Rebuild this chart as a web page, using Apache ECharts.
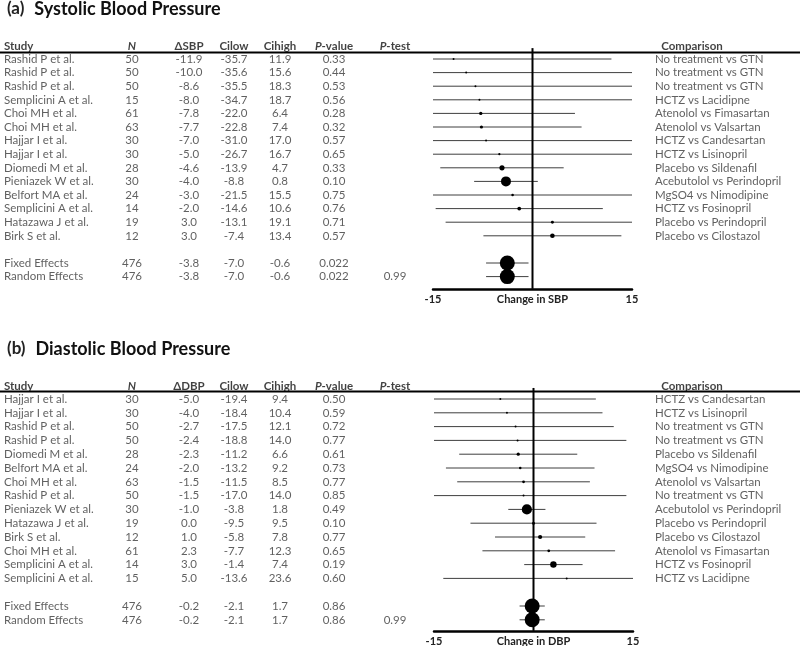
<!DOCTYPE html>
<html><head><meta charset="utf-8">
<script src="https://cdn.jsdelivr.net/npm/echarts@6/dist/echarts.min.js"></script>
<style>html,body{margin:0;padding:0;background:#fff}#c{width:800px;height:646px}</style>
</head><body><div id="c"></div>
<script>
// ---------- (a) Systolic ----------
const sbpStudy = ['Rashid P et al.','Rashid P et al.','Rashid P et al.','Semplicini A et al.','Choi MH et al.','Choi MH et al.','Hajjar I et al.','Hajjar I et al.','Diomedi M et al.','Pieniazek W et al.','Belfort MA et al.','Semplicini A et al.','Hatazawa J et al.','Birk S et al.','Fixed Effects','Random Effects'];
const sbpN = [50,50,50,15,61,63,30,30,28,30,24,14,19,12,476,476];
const sbpDelta = [-11.9,-10.0,-8.6,-8.0,-7.8,-7.7,-7.0,-5.0,-4.6,-4.0,-3.0,-2.0,3.0,3.0,-3.8,-3.8];
const sbpLow = [-35.7,-35.6,-35.5,-34.7,-22.0,-22.8,-31.0,-26.7,-13.9,-8.8,-21.5,-14.6,-13.1,-7.4,-7.0,-7.0];
const sbpHigh = [11.9,15.6,18.3,18.7,6.4,7.4,17.0,16.7,4.7,0.8,15.5,10.6,19.1,13.4,-0.6,-0.6];
const sbpP = ['0.33','0.44','0.53','0.56','0.28','0.32','0.57','0.65','0.33','0.10','0.75','0.76','0.71','0.57','0.022','0.022'];
const sbpPtest = ['','','','','','','','','','','','','','','','0.99'];
const sbpComparison = ['No treatment vs GTN','No treatment vs GTN','No treatment vs GTN','HCTZ vs Lacidipne','Atenolol vs Fimasartan','Atenolol vs Valsartan','HCTZ vs Candesartan','HCTZ vs Lisinopril','Placebo vs Sildenafil','Acebutolol vs Perindopril','MgSO4 vs Nimodipine','HCTZ vs Fosinopril','Placebo vs Perindopril','Placebo vs Cilostazol','',''];
const sbpHeaders = ['Study','{i|N}','ΔSBP','Cilow','Cihigh','{i|P}-value','{i|P}-test','Comparison'];

// ---------- (b) Diastolic ----------
const dbpStudy = ['Hajjar I et al.','Hajjar I et al.','Rashid P et al.','Rashid P et al.','Diomedi M et al.','Belfort MA et al.','Choi MH et al.','Rashid P et al.','Pieniazek W et al.','Hatazawa J et al.','Birk S et al.','Choi MH et al.','Semplicini A et al.','Semplicini A et al.','Fixed Effects','Random Effects'];
const dbpN = [30,30,50,50,28,24,63,50,30,19,12,61,14,15,476,476];
const dbpDelta = [-5.0,-4.0,-2.7,-2.4,-2.3,-2.0,-1.5,-1.5,-1.0,0.0,1.0,2.3,3.0,5.0,-0.2,-0.2];
const dbpLow = [-19.4,-18.4,-17.5,-18.8,-11.2,-13.2,-11.5,-17.0,-3.8,-9.5,-5.8,-7.7,-1.4,-13.6,-2.1,-2.1];
const dbpHigh = [9.4,10.4,12.1,14.0,6.6,9.2,8.5,14.0,1.8,9.5,7.8,12.3,7.4,23.6,1.7,1.7];
const dbpP = ['0.50','0.59','0.72','0.77','0.61','0.73','0.77','0.85','0.49','0.10','0.77','0.65','0.19','0.60','0.86','0.86'];
const dbpPtest = ['','','','','','','','','','','','','','','','0.99'];
const dbpComparison = ['HCTZ vs Candesartan','HCTZ vs Lisinopril','No treatment vs GTN','No treatment vs GTN','Placebo vs Sildenafil','MgSO4 vs Nimodipine','Atenolol vs Valsartan','No treatment vs GTN','Acebutolol vs Perindopril','Placebo vs Perindopril','Placebo vs Cilostazol','Atenolol vs Fimasartan','HCTZ vs Fosinopril','HCTZ vs Lacidipne','',''];
const dbpHeaders = ['Study','{i|N}','ΔDBP','Cilow','Cihigh','{i|P}-value','{i|P}-test','Comparison'];

const axisTicks = [-15, 15];

const FONT = 'Lato';
const FS = 11.5;
const TXT = '#383838';
const fmt1 = v => v.toFixed(1);

function rowOf(i){ return i < 14 ? i : i + 1; }

// column layout (pixel positions on the 0..800 table axis)
const COLS = [
  {x:4, align:'left'}, {x:132, align:'center'}, {x:189, align:'center'}, {x:234, align:'center'},
  {x:280, align:'center'}, {x:334, align:'center'}, {x:395, align:'center'}, {x:655, align:'left'}
];
const HEADER_COMP_X = 692;

const grids = [], xAxes = [], yAxes = [], series = [], graphics = [];

function panel(p, cfg){
  const tIdx = grids.length;
  // table grid
  grids.push({left:0, width:800, top:cfg.row0 - 2*cfg.step, height:19*cfg.step, outerBoundsMode:'none', containLabel:false});
  xAxes.push({gridIndex:tIdx, type:'value', min:0, max:800, show:false});
  yAxes.push({gridIndex:tIdx, type:'value', min:-2, max:17, inverse:true, show:false});
  // header rule
  const ruleY = Math.round(cfg.row0 - 0.55*cfg.step) + 0.5;
  graphics.push({type:'line', silent:true, z:10, shape:{x1:0, y1:ruleY, x2:800, y2:ruleY}, style:{stroke:'#000', lineWidth:2}});
  // forest grid
  const fIdx = grids.length;
  grids.push({left:cfg.fLeft, width:cfg.fWidth, top:cfg.row0 - 0.8*cfg.step, height:(cfg.yMax+0.8)*cfg.step, outerBoundsMode:'none', containLabel:false});
  xAxes.push({gridIndex:fIdx, type:'value', min:axisTicks[0], max:axisTicks[1], interval:axisTicks[1]-axisTicks[0],
    axisLine:{show:true, onZero:false, lineStyle:{color:'#000', width:2.5}}, axisTick:{show:false}, splitLine:{show:false},
    axisLabel:{fontFamily:FONT, fontWeight:'bold', fontSize:11, color:'#222', margin:5},
    name:cfg.axisName, nameLocation:'middle', nameGap:5, nameMoveOverlap:false,
    nameTextStyle:{fontFamily:FONT, fontWeight:'bold', fontSize:11, color:'#222', verticalAlign:'top'}});
  yAxes.push({gridIndex:fIdx, type:'value', min:-0.8, max:cfg.yMax, inverse:true, show:false});

  const cols = [p.study, p.n.map(String), p.delta.map(fmt1), p.low.map(fmt1), p.high.map(fmt1), p.pv, p.pt, p.comp];
  cols.forEach((col, c) => {
    series.push({type:'scatter', xAxisIndex:tIdx, yAxisIndex:tIdx, silent:true, animation:false,
      symbolSize:1, itemStyle:{color:'transparent'},
      data: col.map((t,i)=>({value:[COLS[c].x, rowOf(i)], name:t})).filter(d=>d.name!==''),
      label:{show:true, position:'inside', align:COLS[c].align, verticalAlign:'middle',
        formatter: d => d.name, fontFamily:FONT, fontSize:FS, color:TXT}
    });
  });
  // headers
  series.push({type:'scatter', xAxisIndex:tIdx, yAxisIndex:tIdx, silent:true, animation:false,
    symbolSize:1, itemStyle:{color:'transparent'},
    data: p.headers.map((h,c)=>({value:[c===7?HEADER_COMP_X:COLS[c].x, -0.92], name:h,
      label:{align: c===0 ? 'left' : 'center'}})),
    label:{show:true, position:'inside', verticalAlign:'middle',
      formatter: d => d.name, fontFamily:FONT, fontSize:FS, fontWeight:'bold', color:'#111',
      rich:{i:{fontStyle:'italic', fontWeight:'bold', fontFamily:FONT, fontSize:FS, color:'#111'}}}
  });

  // CI lines
  const ciData = p.delta.map((d,i)=>[d, rowOf(i), p.low[i], p.high[i]]);
  series.push({type:'custom', xAxisIndex:fIdx, yAxisIndex:fIdx, silent:true, animation:false, clip:true,
    encode:{x:0, y:1}, data:ciData,
    renderItem:(params, api)=>{
      const y = api.value(1);
      const a = api.coord([api.value(2), y]); const b = api.coord([api.value(3), y]);
      return {type:'line', shape:{x1:a[0], y1:a[1], x2:b[0], y2:b[1]}, style:{stroke:'#3f3f3f', lineWidth:1}};
    }});
  // zero reference line
  series.push({type:'custom', xAxisIndex:fIdx, yAxisIndex:fIdx, silent:true, animation:false, clip:false,
    data:[[0, -0.8, cfg.yMax]], encode:{x:0, y:1},
    renderItem:(params, api)=>{
      const a = api.coord([api.value(0), api.value(1)]); const b = api.coord([api.value(0), api.value(2)]);
      return {type:'line', shape:{x1:a[0], y1:a[1], x2:b[0], y2:b[1]}, style:{stroke:'#000', lineWidth:2}};
    }});
  // point estimates, sized by inverse CI width relative to the pooled estimate
  const fixedW = p.high[14] - p.low[14];
  series.push({type:'scatter', xAxisIndex:fIdx, yAxisIndex:fIdx, silent:true, animation:false, z:5,
    data: p.delta.map((d,i)=>[d, rowOf(i), 15 * fixedW / (p.high[i]-p.low[i])]),
    symbolSize: v => Math.max(2, v[2]), itemStyle:{color:'#000', opacity:1}});
}

panel({study:sbpStudy, n:sbpN, delta:sbpDelta, low:sbpLow, high:sbpHigh, pv:sbpP, pt:sbpPtest, comp:sbpComparison, headers:sbpHeaders},
  {row0:59, step:13.6, fLeft:433, fWidth:199, yMax:16.9, axisName:'Change in SBP'});
panel({study:dbpStudy, n:dbpN, delta:dbpDelta, low:dbpLow, high:dbpHigh, pv:dbpP, pt:dbpPtest, comp:dbpComparison, headers:dbpHeaders},
  {row0:399, step:13.8, fLeft:434, fWidth:199, yMax:16.8, axisName:'Change in DBP'});

const chart = echarts.init(document.getElementById('c'), null, {renderer:'canvas'});
const titleRich = {a:{fontFamily:FONT, fontSize:17, color:'#222'}, b:{fontFamily:FONT, fontSize:18, fontWeight:'bold', color:'#111'}};
chart.setOption({
  animation:false,
  backgroundColor:'#fff',
  title:[
    {text:'{a|(a)}  {b|Systolic Blood Pressure}', left:2, top:-5, textStyle:{rich:titleRich}},
    {text:'{a|(b)}  {b|Diastolic Blood Pressure}', left:2, top:335, textStyle:{rich:titleRich}}
  ],
  graphic:graphics,
  grid:grids, xAxis:xAxes, yAxis:yAxes, series:series
});
</script></body></html>
